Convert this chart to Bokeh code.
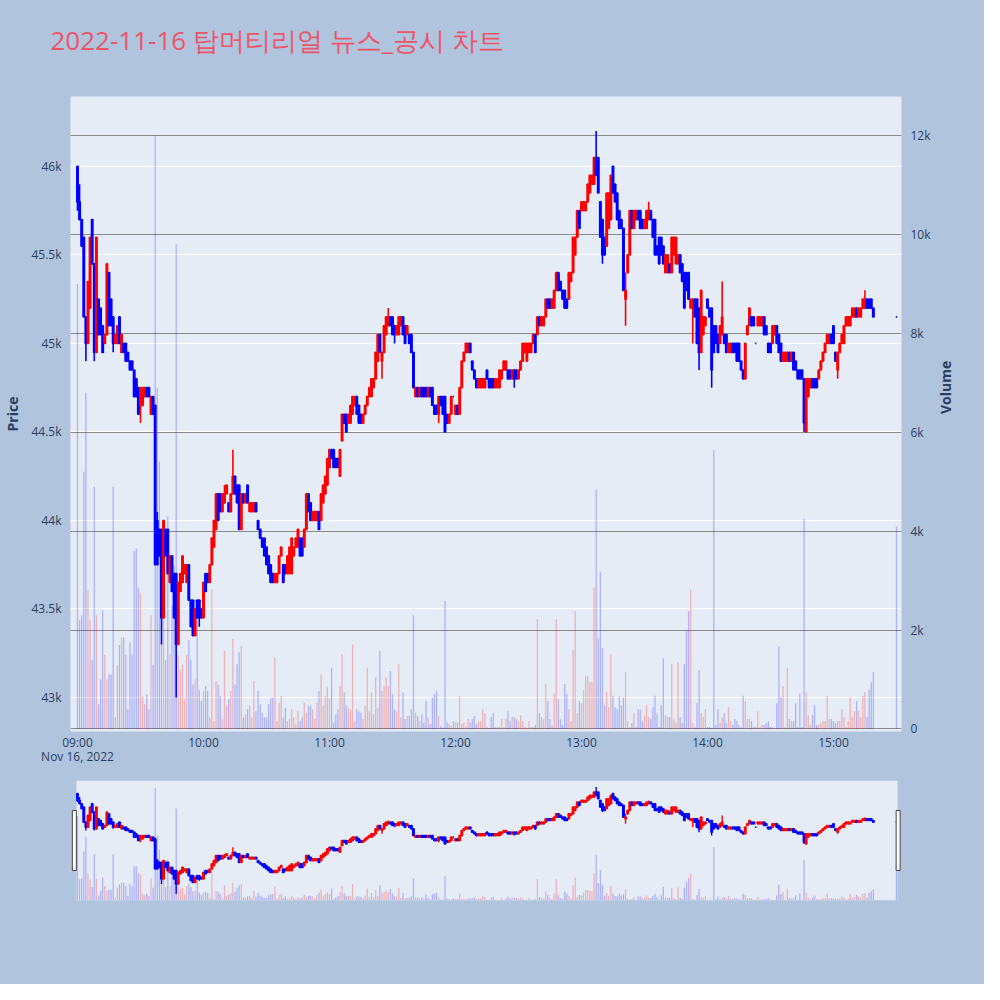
import numpy as np
import pandas as pd
from bokeh.plotting import figure
from bokeh.layouts import column
from bokeh.models import (ColumnDataSource, Range1d, LinearAxis, DatetimeAxis, Grid, FixedTicker,
                          NumeralTickFormatter, DatetimeTickFormatter, Title)
from bokeh.embed import file_html
from bokeh.resources import INLINE

TITLE = "2022-11-16 탑머티리얼 뉴스_공시 차트"
SESSION_DATE = "2022-11-16"

# ---- 1-minute candles (09:00 .. 15:19) ----
open_0900 = [46000, 45800, 45700, 45600, 45150, 45000, 45200, 45700, 45450, 44950,
             45250, 45200, 45100, 45000, 45050, 45400, 45250, 45150, 45000, 45000,
             45150, 44950, 45000, 45000, 44950, 44900, 44900, 44850, 44800, 44750,
             44650, 44650, 44700, 44750, 44750, 44600, 44700, 44650]
close_0900 = [45800, 45700, 45550, 45150, 45000, 45350, 45600, 45450, 44950, 45600,
              45050, 45050, 44950, 45050, 45450, 45100, 45100, 45000, 45050, 45100,
              45000, 45050, 44950, 44900, 44900, 44850, 44850, 44700, 44700, 44600,
              44750, 44750, 44750, 44700, 44700, 44700, 44600, 43750]
open_0938 = [44000, 43950, 43950, 43450, 43950, 43950, 43650, 43800, 43700, 43700,
             43300, 43600, 43650, 43700, 43650, 43750, 43550, 43550, 43350, 43550, 43550]
close_0938 = [43750, 43800, 43450, 44000, 43800, 43700, 43800, 43600, 43450, 43300,
              43650, 43700, 43800, 43750, 43750, 43550, 43400, 43350, 43500, 43450, 43450]
open_0959 = [43500, 43450, 43700, 43700, 43650, 43750, 43850, 43950, 44150, 44150,
             44050, 44100, 44150, 44100, 44050, 44150, 44250, 44200, 44200, 43950,
             44150, 44100, 44200, 44050, 44050, 44050, 44100, 44000, 43950, 43900,
             43900, 43850, 43800, 43750, 43700, 43650, 43650, 43700, 43800, 43750,
             43750, 43700, 43700, 43700, 43800, 43850, 43850, 43900, 43900, 43850,
             43950, 44150, 44100, 44000, 44000, 44000, 44050, 44000, 44100, 44150,
             44200, 44300, 44400, 44400, 44350, 44350, 44250]
close_0959 = [43450, 43650, 43600, 43650, 43750, 43900, 44000, 44150, 44000, 44050,
              44150, 44150, 44200, 44050, 44150, 44250, 44150, 44100, 43950, 44150,
              44100, 44150, 44100, 44100, 44100, 44100, 44050, 43950, 43900, 43850,
              43800, 43750, 43700, 43650, 43650, 43700, 43700, 43800, 43850, 43650,
              43700, 43800, 43850, 43900, 43850, 43900, 43950, 43800, 43800, 43950,
              44150, 44050, 44000, 44050, 44050, 44050, 43950, 44150, 44200, 44250,
              44350, 44400, 44350, 44300, 44300, 44300, 44400]
open_1106 = [44450, 44600, 44600, 44550, 44550, 44600, 44650, 44700, 44650, 44600,
             44550, 44600, 44650, 44700, 44700, 44750, 44800, 44900, 45050, 44900,
             44950, 45050, 45100, 45150, 45150, 45100, 45050, 45050, 45100, 45150,
             45100, 45050, 45050, 45050, 44950, 44700, 44750, 44700, 44750, 44750,
             44750, 44700, 44750, 44750, 44650, 44650, 44600, 44700, 44700, 44700,
             44600, 44550, 44600, 44700, 44600, 44650, 44600, 44750, 44900, 44950,
             44950, 45000, 44900, 44850, 44800, 44750]
close_1106 = [44600, 44550, 44500, 44600, 44650, 44700, 44700, 44600, 44550, 44550,
              44600, 44650, 44700, 44750, 44800, 44800, 44950, 45050, 44950, 44950,
              45100, 45150, 45150, 45100, 45050, 45050, 45100, 45150, 45150, 45050,
              45000, 45100, 45000, 44950, 44750, 44750, 44700, 44750, 44700, 44700,
              44700, 44750, 44700, 44650, 44600, 44600, 44700, 44650, 44600, 44500,
              44550, 44600, 44700, 44700, 44650, 44600, 44750, 44900, 44950, 45000,
              45000, 44950, 44850, 44800, 44750, 44800]
open_1212 = [44750, 44750, 44750, 44850, 44800, 44800, 44800, 44750, 44750, 44750,
             44800, 44850, 44850, 44850, 44850, 44800, 44850, 44850, 44800, 44850,
             44900, 44950, 44900, 44950, 44950, 45000, 45050, 45050, 45150, 45100,
             45100, 45150, 45250, 45250, 45200, 45200, 45300, 45400, 45350, 45300,
             45300, 45250, 45250, 45350, 45400, 45500, 45600, 45750, 45750, 45750,
             45750, 45800, 45850, 45900, 45900, 46050, 46050, 45800, 45700, 45600,
             45550, 45650, 45700, 46000, 45900, 45850, 45750, 45700, 45650]
close_1212 = [44800, 44800, 44800, 44800, 44750, 44750, 44750, 44800, 44800, 44850,
              44850, 44900, 44900, 44800, 44800, 44850, 44800, 44800, 44850, 44900,
              45000, 45000, 45000, 45000, 45000, 45050, 44950, 45150, 45100, 45150,
              45150, 45250, 45200, 45200, 45250, 45300, 45400, 45300, 45300, 45250,
              45200, 45200, 45400, 45400, 45600, 45600, 45750, 45650, 45800, 45800,
              45800, 45900, 45950, 45950, 46050, 45950, 45850, 45600, 45500, 45500,
              45850, 45850, 45950, 45850, 45800, 45700, 45650, 45650, 45300]
open_1321 = [45250, 45400, 45500, 45750, 45650, 45700, 45750, 45750, 45700, 45650,
             45650, 45700, 45750, 45700, 45700, 45550, 45600, 45600, 45550, 45400,
             45400, 45450, 45400, 45500, 45450, 45450, 45500, 45450, 45400, 45400,
             45400, 45200, 45200, 45250, 45250, 45200, 44950, 45050, 45100, 45250,
             45200, 45200, 45100, 45100, 45050, 45000, 45050, 45050, 45050, 44950,
             44950, 45000, 45000, 45000, 45000, 44900, 44850, 44800, 45050, 45100,
             45150, 45150, 45000, 45100]
close_1321 = [45300, 45500, 45750, 45650, 45750, 45750, 45700, 45650, 45650, 45700,
              45750, 45750, 45700, 45600, 45500, 45500, 45450, 45500, 45450, 45500,
              45500, 45400, 45600, 45600, 45600, 45500, 45400, 45350, 45200, 45300,
              45250, 45250, 45250, 45150, 45000, 44950, 45300, 45150, 45150, 45200,
              45150, 44850, 44950, 45000, 44950, 45100, 45150, 45000, 44950, 45000,
              45000, 44950, 44950, 44900, 44900, 44850, 44800, 45000, 45100, 45200,
              45100, 45100, 45000, 45150]
open_1425 = [45100, 45100, 45150, 45100, 45000, 45000, 45000, 45050, 45100, 45050,
             45000, 44900, 44900, 44900, 44950, 44900, 44950, 44900, 44850, 44850,
             44850, 44800, 44500, 44700, 44750, 44800, 44800, 44800, 44800, 44850,
             44900, 44950, 45000, 45000, 45050, 45100, 44950, 44850, 44950, 45000,
             45000, 45100, 45100, 45100, 45150, 45150, 45200, 45150, 45150, 45200,
             45200, 45250, 45250, 45250, 45200]
close_1425 = [45150, 45150, 45050, 45050, 44950, 44950, 45100, 45100, 45000, 44950,
              44900, 44950, 44950, 44950, 44900, 44950, 44850, 44850, 44800, 44800,
              44800, 44550, 44800, 44800, 44800, 44750, 44750, 44750, 44850, 44900,
              44950, 45000, 45050, 45050, 45000, 45000, 44900, 44950, 45000, 45050,
              45100, 45150, 45150, 45150, 45200, 45200, 45150, 45200, 45200, 45250,
              45250, 45200, 45200, 45200, 45150]

# wick extremes beyond the candle bodies
high_wicks = {"09:01": 45900, "09:38": 44050, "10:10": 44200, "10:14": 44400,
              "11:28": 45200, "13:07": 46200, "13:21": 45400, "13:32": 45800,
              "14:07": 45350, "15:15": 45300}
low_wicks = {"09:00": 45750, "09:04": 44900, "09:08": 44900, "09:17": 44950,
             "09:30": 44550, "09:40": 43300, "09:47": 43000, "09:58": 43400,
             "11:25": 44800, "11:31": 45000, "11:52": 44550, "12:28": 44750,
             "13:10": 45450, "13:21": 45100, "13:53": 45000, "13:56": 44850,
             "14:02": 44750, "14:46": 44500, "15:02": 44800}

# volume per minute
vol_0900 = [9000, 2200, 2300, 5200, 6800, 2800, 2200, 1400, 4900, 2300,
            500, 1000, 2400, 1500, 1000, 1100, 1100, 4900, 240, 1300,
            1700, 1850, 1850, 1500, 400, 1750, 1500, 3600, 3650, 2850,
            2750, 650, 500, 700, 400, 2300, 1300, 12000]
vol_0938 = [6900, 5400, 3300, 3100, 1400, 4300, 1500, 2500, 3300, 9800,
            1500, 1200, 1300, 600, 1500, 1800, 1400, 900, 1000, 2500, 800]
vol_0959 = [570, 770, 870, 770, 230, 2830, 160, 970, 900, 670,
            200, 1580, 470, 600, 770, 1820, 900, 1310, 1550, 1680,
            230, 300, 400, 470, 230, 970, 360, 770, 500, 330,
            230, 230, 500, 630, 630, 1440, 160, 530, 670, 230,
            430, 160, 200, 400, 230, 100, 360, 160, 230, 530,
            330, 470, 470, 400, 200, 530, 770, 1100, 470, 670,
            840, 630, 1240, 130, 300, 400, 870]
vol_1106 = [1510, 740, 470, 430, 400, 1710, 160, 400, 360, 330,
            200, 470, 1240, 360, 740, 300, 1040, 430, 1580, 770,
            870, 1040, 870, 1170, 700, 400, 360, 1310, 230, 740,
            200, 260, 260, 400, 2300, 330, 260, 160, 300, 130,
            570, 230, 100, 630, 700, 770, 260, 60, 30, 2590,
            130, 100, 60, 160, 130, 130, 670, 100, 130, 60,
            200, 130, 200, 260, 100, 160]
vol_1212 = [160, 400, 320, 40, 20, 240, 320, 40, 40, 40,
            200, 40, 200, 360, 160, 240, 240, 200, 160, 280,
            160, 40, 20, 160, 40, 40, 80, 2220, 320, 240,
            200, 910, 560, 200, 80, 710, 2220, 600, 200, 80,
            910, 710, 400, 160, 1590, 2380, 320, 560, 520, 790,
            1070, 1070, 950, 950, 2860, 4840, 1830, 3180, 1630, 480,
            750, 440, 1510, 670, 440, 400, 670, 480, 640]
vol_1321 = [1150, 160, 40, 120, 320, 40, 400, 400, 160, 280,
            480, 240, 200, 440, 670, 320, 40, 480, 1430, 280,
            240, 240, 1310, 200, 120, 1350, 240, 120, 1310, 1990,
            2380, 2820, 120, 40, 520, 1190, 320, 240, 400, 40,
            40, 20, 5640, 80, 400, 120, 240, 320, 120, 440,
            160, 80, 200, 160, 80, 40, 670, 560, 200, 200,
            160, 40, 40, 360]
vol_1425 = [40, 80, 80, 120, 160, 40, 40, 20, 520, 1670,
            640, 870, 40, 1230, 200, 160, 160, 520, 40, 710,
            40, 4250, 750, 280, 80, 280, 480, 80, 80, 120,
            160, 160, 670, 200, 200, 160, 120, 160, 160, 400,
            240, 40, 160, 640, 240, 360, 560, 360, 240, 670,
            750, 240, 790, 950, 1150]

# closing single-price auction
auction_time = "15:30"
auction_price = 45150
auction_volume = 4100

price_ticks = [43000, 43500, 44000, 44500, 45000, 45500, 46000]
volume_ticks = [0, 2000, 4000, 6000, 8000, 10000, 12000]
hour_ticks = ["09:00", "10:00", "11:00", "12:00", "13:00", "14:00", "15:00"]

# ---------------- assemble ----------------
opens = (open_0900 + open_0938 + open_0959 + open_1106 + open_1212 + open_1321 + open_1425)
closes = (close_0900 + close_0938 + close_0959 + close_1106 + close_1212 + close_1321 + close_1425)
vols = (vol_0900 + vol_0938 + vol_0959 + vol_1106 + vol_1212 + vol_1321 + vol_1425)
times = pd.date_range(f"{SESSION_DATE} 09:00", periods=len(opens), freq="min")
times = times.append(pd.DatetimeIndex([f"{SESSION_DATE} {auction_time}"]))
opens = opens + [auction_price]
closes = closes + [auction_price]
vols = vols + [auction_volume]
labels = list(times.strftime("%H:%M"))
highs = [max(o, c, high_wicks.get(k, o)) for o, c, k in zip(opens, closes, labels)]
lows = [min(o, c, low_wicks.get(k, o)) for o, c, k in zip(opens, closes, labels)]

MIN = 60000.0
t_ms = (times.asi8 // 10**6).astype(float)
colors = ["#FF0000" if c > o else "#0000FF" for o, c in zip(opens, closes)]

def src():
    return ColumnDataSource(dict(
        t=t_ms, o=opens, c=closes, h=highs, l=lows, vol=vols,
        top=[max(o, c) for o, c in zip(opens, closes)],
        bot=[min(o, c) for o, c in zip(opens, closes)],
        color=colors))

BG = "#B0C4DE"
PLOT_BG = "#E5ECF6"
FONT = "Open Sans"
TXT = "#2a3f5f"
W = 984

x0 = t_ms[0] - 3.33 * MIN
x1 = t_ms[0] + 392.4 * MIN
y0, y1 = 42808, 46395
v0, v1 = -51, 12789

# ---------------- main chart ----------------
p = figure(width=W, height=778, x_axis_type="datetime", output_backend="svg",
           toolbar_location=None, background_fill_color=PLOT_BG, border_fill_color=BG,
           x_range=Range1d(x0, x1), y_range=Range1d(y0, y1),
           min_border_left=70, min_border_right=83, min_border_top=96, min_border_bottom=47)
p.outline_line_color = None
p.extra_y_ranges = {"vol": Range1d(v0, v1)}

# spacer (closest to the frame) then the real title above it
p.add_layout(Title(text=" ", text_font=FONT, text_font_size="10px", standoff=23), "above")
p.add_layout(Title(text=TITLE, text_font=FONT, text_font_size="26px", text_color="#EC5468",
                   text_font_style="normal", align="left", offset=-20, standoff=0,
                   vertical_align="bottom"), "above")

p.xgrid.visible = False
p.ygrid.ticker = FixedTicker(ticks=price_ticks)
p.ygrid.grid_line_color = "white"
p.ygrid.grid_line_width = 1

vol_axis = LinearAxis(y_range_name="vol", ticker=FixedTicker(ticks=volume_ticks),
                      formatter=NumeralTickFormatter(format="0a"))
p.add_layout(vol_axis, "right")
p.add_layout(Grid(dimension=1, ticker=FixedTicker(ticks=volume_ticks), y_range_name="vol",
                  grid_line_color="#8a8a8a", grid_line_width=1))

p.yaxis[0].ticker = FixedTicker(ticks=price_ticks)
p.yaxis[0].formatter = NumeralTickFormatter(format="0.[0]a")
hour_ms = [float(pd.Timestamp(f"{SESSION_DATE} {h}").value // 10**6) for h in hour_ticks]
p.xaxis.ticker = FixedTicker(ticks=hour_ms)
p.xaxis.formatter = DatetimeTickFormatter(minsec="%H:%M", minutes="%H:%M", hourmin="%H:%M",
                                          hours="%H:%M", days="%H:%M")

date_fmt = "%b %d, %Y"
date_axis = DatetimeAxis(ticker=FixedTicker(ticks=[hour_ms[0]]),
                         formatter=DatetimeTickFormatter(
                             microseconds=date_fmt, milliseconds=date_fmt, seconds=date_fmt,
                             minsec=date_fmt, minutes=date_fmt, hourmin=date_fmt, hours=date_fmt,
                             days=date_fmt, months=date_fmt, years=date_fmt))
p.add_layout(date_axis, "below")

for ax in p.axis:
    ax.axis_line_color = None
    ax.major_tick_line_color = None
    ax.minor_tick_line_color = None
    ax.major_label_text_font = FONT
    ax.major_label_text_font_size = "12px"
    ax.major_label_text_color = TXT
    ax.major_label_standoff = 3
    ax.axis_label_text_font = FONT
    ax.axis_label_text_font_size = "14px"
    ax.axis_label_text_font_style = "bold"
    ax.axis_label_text_color = TXT
p.xaxis[0].major_label_standoff = -4
date_axis.major_label_standoff = -12

p.yaxis[0].axis_label = "Price"
p.yaxis[0].axis_label_standoff = 6
vol_axis.axis_label = "Volume"
vol_axis.axis_label_standoff = 12
try:
    vol_axis.axis_label_orientation = np.pi / 2
except Exception:
    pass

s_main = src()
p.vbar(x="t", top="vol", bottom=0, width=0.6 * MIN, fill_color="color", line_color=None,
       fill_alpha=0.25, y_range_name="vol", source=s_main)
p.segment(x0="t", y0="l", x1="t", y1="h", line_color="color", line_width=1.6, source=s_main)
p.vbar(x="t", top="top", bottom="bot", width=0.6 * MIN, fill_color="color",
       line_color="color", line_width=1.7, source=s_main)

# ---------------- range slider ----------------
s = figure(width=W, height=206, output_backend="svg", toolbar_location=None,
           x_axis_location=None, y_axis_location=None,
           background_fill_color=BG, border_fill_color=BG,
           x_range=Range1d(x0, x1), y_range=Range1d(y0, y1),
           min_border_left=70, min_border_right=83, min_border_top=2, min_border_bottom=84)
s.outline_line_color = None
s.grid.visible = False
s.extra_y_ranges = {"vol": Range1d(v0, v1)}
sl_left = t_ms[0] - 0.5 * MIN
sl_right = t_ms[-1] + 0.5 * MIN
s.quad(left=[sl_left], right=[sl_right], bottom=[y0], top=[y1], fill_color=PLOT_BG, line_color=None)
s_mini = src()
s.vbar(x="t", top="vol", bottom=0, width=0.6 * MIN, fill_color="color", line_color=None,
       fill_alpha=0.25, y_range_name="vol", source=s_mini)
s.segment(x0="t", y0="l", x1="t", y1="h", line_color="color", line_width=1.4, source=s_mini)
s.vbar(x="t", top="top", bottom="bot", width=0.6 * MIN, fill_color="color",
       line_color="color", line_width=1.7, source=s_mini)
mid = (y0 + y1) / 2
s.rect(x=[sl_left - 1.0 * MIN, sl_right + 0.3 * MIN], y=[mid, mid], width=4, height=60,
       width_units="screen", height_units="screen", fill_color="white",
       line_color="#444444", line_width=1)

layout = column(p, s)
layout.styles = {"background-color": BG}
open("out.html", "w").write(file_html(layout, INLINE))
